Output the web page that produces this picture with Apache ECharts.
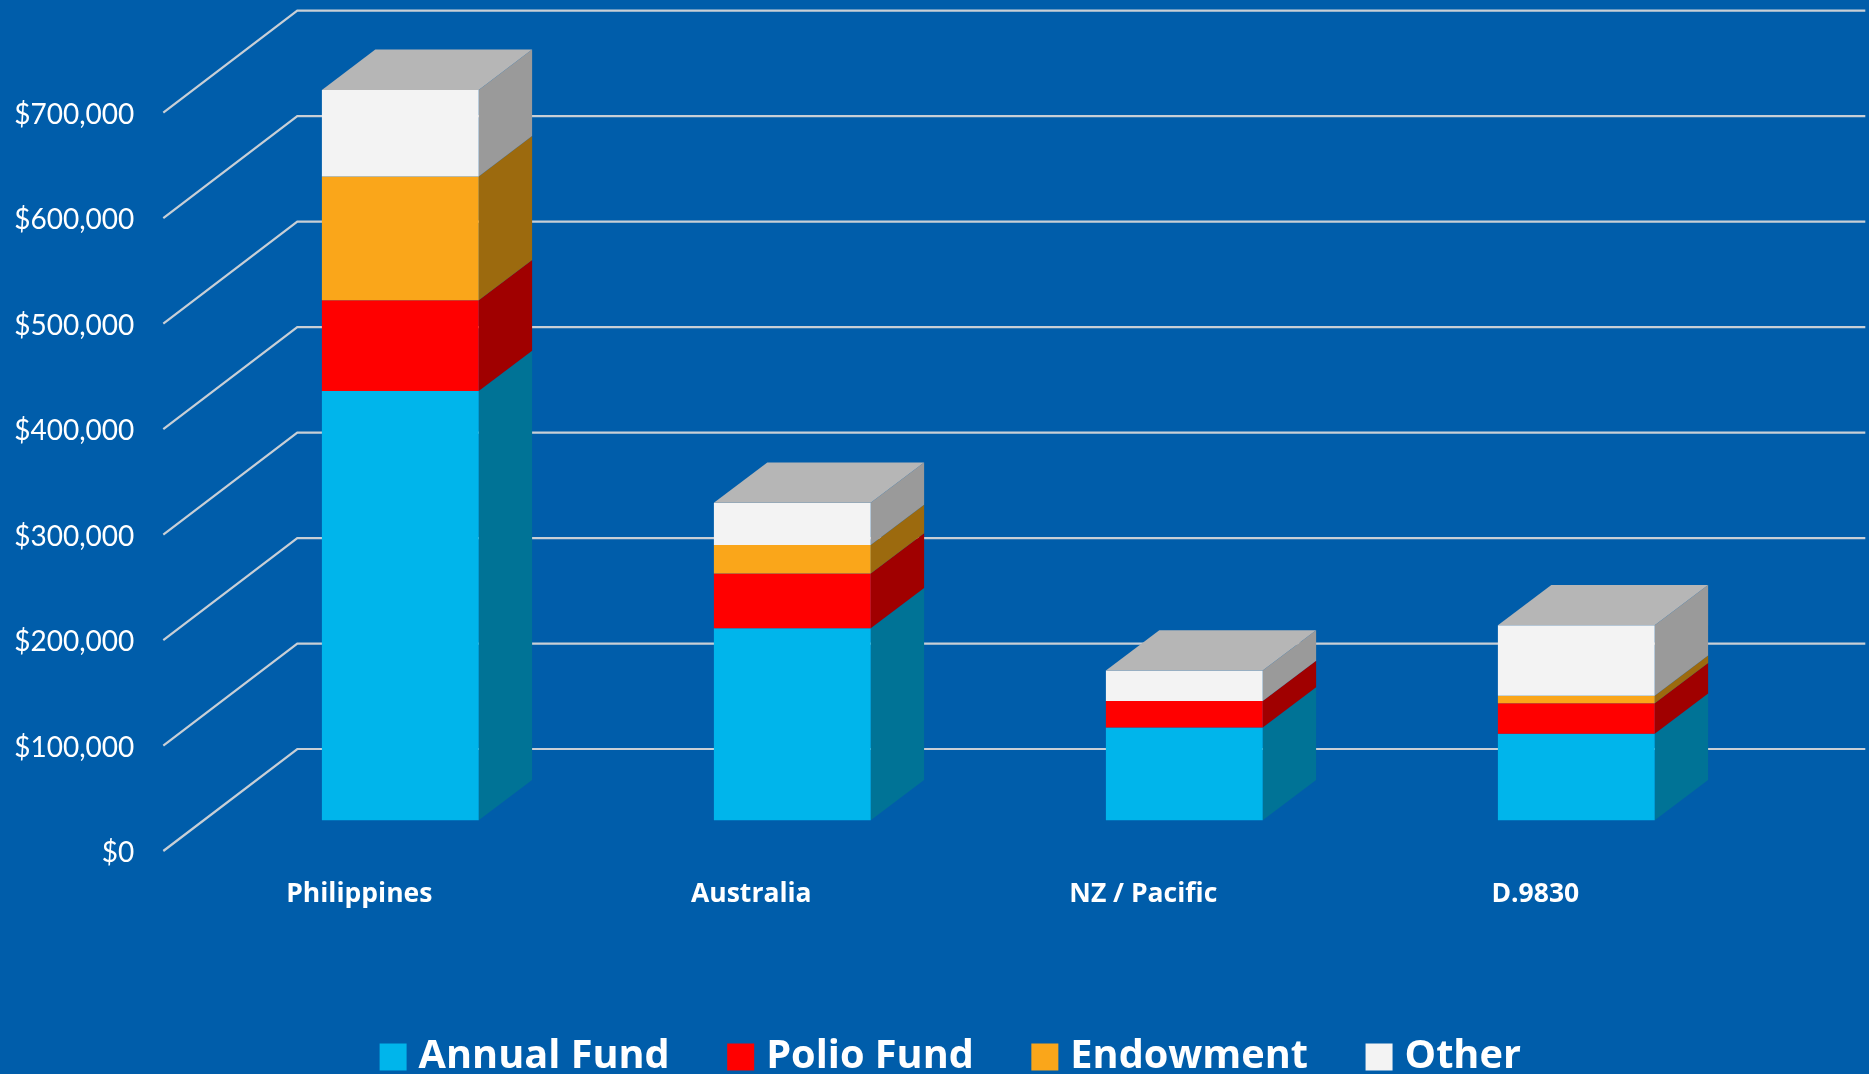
<!DOCTYPE html>
<html>
<head>
<meta charset="utf-8">
<style>html,body{margin:0;padding:0;background:#005DAA;overflow:hidden}#c{width:1869px;height:1074px}</style>
<script src="https://cdn.jsdelivr.net/npm/echarts@6/dist/echarts.min.js"></script>
</head>
<body>
<div id="c"></div>
<script>
var categories = ['Philippines', 'Australia', 'NZ / Pacific', 'D.9830'];
var annualFund = [407000, 182000, 88000, 82000];
var polioFund = [86000, 52000, 25000, 29000];
var endowment = [117500, 27000, 0, 7000];
var other = [82000, 40000, 29000, 67000];
var axisTicks = [0, 100000, 200000, 300000, 400000, 500000, 600000, 700000];

var seriesNames = ['Annual Fund', 'Polio Fund', 'Endowment', 'Other'];
var frontColors = ['#00B5EB', '#FF0000', '#FAA61A', '#F3F3F3'];
var sideColors = ['#007396', '#A00000', '#9C6A0E', '#9A9A9A'];
var topColor = '#B6B6B6';
var lineColor = '#C8CFD6';
var bg = '#005DAA';

var wallShiftY = -2;
var wallDx = 134, wallDy = -102;
var barOffsetX = 41, barOffsetY = -32.7, barDepthX = 53.4, barDepthY = -40.3, barWidth = 0.40;

var allValues = [annualFund, polioFund, endowment, other];
var chart = echarts.init(document.getElementById('c'), null, {renderer: 'canvas'});

function lineItem(params, api) {
  var cs = params.coordSys;
  var p = api.coord([0, api.value(1)]);
  var x0 = cs.x, y = p[1] + wallShiftY;
  return {
    type: 'polyline',
    shape: {points: [[x0, y], [x0 + wallDx, y + wallDy], [x0 + cs.width + wallDx, y + wallDy]]},
    style: {fill: null, stroke: lineColor, lineWidth: 2.2},
    silent: true
  };
}

function makeBar(seriesIdx) {
  return function (params, api) {
    var cat = api.value(0), start = api.value(1), end = api.value(2);
    var cen = api.coord([cat, 0]);
    var size = api.size([1, 0]);
    var w = size[0] * barWidth;
    var l = cen[0] - w / 2 + barOffsetX, r = l + w;
    var yb = api.coord([cat, start])[1] + barOffsetY;
    var yt = api.coord([cat, end])[1] + barOffsetY;
    var dx = barDepthX, dy = barDepthY;
    var children = [];
    if (end > start) {
      children.push({type: 'polygon', shape: {points: [[r, yb], [r + dx, yb + dy], [r + dx, yt + dy], [r, yt]]}, style: {fill: sideColors[seriesIdx]}});
      children.push({type: 'rect', shape: {x: l, y: yt, width: w, height: yb - yt}, style: {fill: frontColors[seriesIdx]}});
    }
    if (seriesIdx === 3) {
      children.push({type: 'polygon', shape: {points: [[l, yt], [l + dx, yt + dy], [r + dx, yt + dy], [r, yt]]}, style: {fill: topColor}});
    }
    return {type: 'group', children: children};
  };
}

var series = [{
  type: 'custom',
  name: 'walls',
  z: 1,
  silent: true,
  renderItem: lineItem,
  encode: {y: 1},
  data: axisTicks.map(function (t) { return [0, t]; })
}];

allValues.forEach(function (vals, si) {
  series.push({
    type: 'custom',
    name: seriesNames[si],
    z: 2 + si,
    itemStyle: {color: frontColors[si]},
    renderItem: makeBar(si),
    encode: {x: 0, y: [1, 2]},
    data: vals.map(function (v, ci) {
      var base = 0;
      for (var k = 0; k < si; k++) base += allValues[k][ci];
      return [ci, base, base + v];
    })
  });
});

chart.setOption({
  animation: false,
  backgroundColor: bg,
  grid: {left: 163.3, right: 137.7, top: 114.7, bottom: 221, containLabel: false},
  legend: {
    data: seriesNames,
    left: 379.6,
    top: 1037,
    padding: 0,
    itemWidth: 27,
    itemHeight: 27,
    itemGap: 57.5,
    icon: 'rect',
    selectedMode: false,
    textStyle: {color: '#FFFFFF', fontFamily: 'Open Sans', fontWeight: 'bold', fontSize: 39.7, padding: [0, 0, 0, 7]}
  },
  xAxis: {
    type: 'category',
    data: categories,
    axisLine: {show: false},
    axisTick: {show: false},
    axisLabel: {color: '#FFFFFF', fontFamily: 'Open Sans', fontWeight: 'bold', fontSize: 26.5, margin: 28}
  },
  yAxis: {
    type: 'value',
    min: 0,
    max: 700000,
    interval: 100000,
    axisLine: {show: false},
    axisTick: {show: false},
    splitLine: {show: false},
    axisLabel: {
      color: '#FFFFFF', fontFamily: 'Lato', fontSize: 28, margin: 29,
      formatter: function (v) { return '$' + v.toLocaleString('en-US'); }
    }
  },
  series: series
});
</script>
</body>
</html>
